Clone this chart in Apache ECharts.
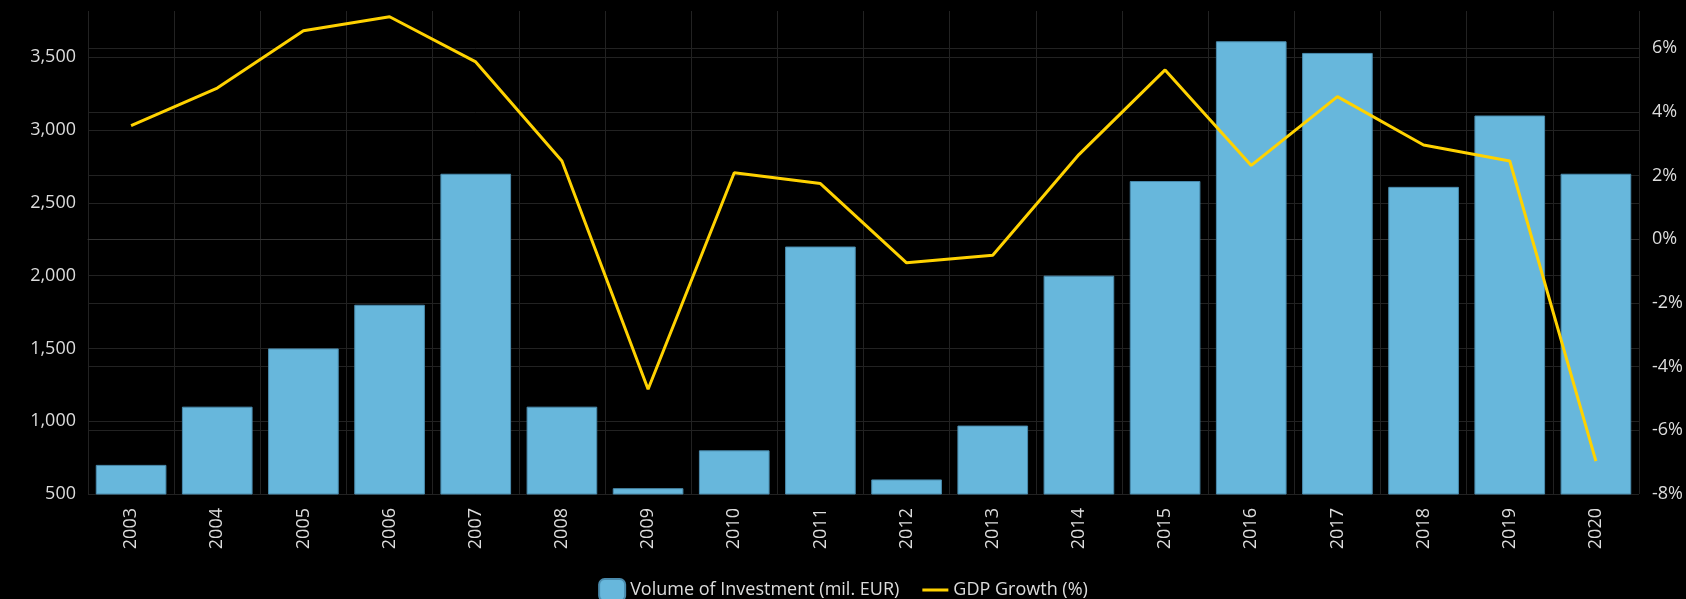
<!DOCTYPE html>
<html>
<head>
<meta charset="utf-8">
<title>Investment and GDP Growth</title>
<script src="https://cdn.jsdelivr.net/npm/echarts@6/dist/echarts.min.js"></script>
<style>
  html, body { margin: 0; padding: 0; background: #000; }
  #main { width: 1686px; height: 599px; }
</style>
</head>
<body>
<div id="main"></div>
<script>
// chart data
var years = ['2003', '2004', '2005', '2006', '2007', '2008', '2009', '2010', '2011',
  '2012', '2013', '2014', '2015', '2016', '2017', '2018', '2019', '2020']
var investment = [700, 1100, 1500, 1800, 2700, 1100, 540, 800, 2200,
  600, 970, 2000, 2650, 3610, 3530, 2610, 3100, 2700]
var gdpGrowth = [3.57, 4.75, 6.55, 6.99, 5.57, 2.46, -4.71, 2.09, 1.75,
  -0.74, -0.5, 2.66, 5.32, 2.32, 4.48, 2.96, 2.46, -6.97]

var textColor = '#dcdcdc'
var gridColor = '#222'
var lineColor = '#ffd200'

var chartDom = document.getElementById('main')
var myChart = echarts.init(chartDom)
var option

option = {
  backgroundColor: '#000',
  animation: false,
  textStyle: { fontFamily: 'Open Sans' },
  grid: {
    left: 88,
    right: 47,
    top: 11,
    bottom: 105
  },
  legend: {
    left: 'center',
    top: 573,
    itemWidth: 26,
    itemHeight: 22,
    itemGap: 23,
    textStyle: { color: textColor, fontSize: 18, fontFamily: 'Open Sans' },
    data: [
      { name: 'Volume of Investment (mil. EUR)', icon: 'roundRect' },
      {
        name: 'GDP Growth (%)',
        // plain short line, no marker
        icon: 'path://M0,0L0.01,0M0,9.5L26,9.5L26,12.5L0,12.5ZM26,22L25.99,22',
        itemStyle: { color: lineColor, borderWidth: 0 }
      }
    ]
  },
  xAxis: {
    type: 'category',
    data: years,
    axisLine: { lineStyle: { color: '#333' } },
    axisTick: { show: false },
    splitLine: { show: true, lineStyle: { color: gridColor } },
    axisLabel: {
      rotate: 90,
      margin: 14,
      color: textColor,
      fontSize: 18
    }
  },
  yAxis: [
    {
      type: 'value',
      min: 500,
      max: 3818,
      interval: 500,
      axisLine: { show: false },
      axisTick: { show: false },
      splitLine: { lineStyle: { color: gridColor }, showMaxLine: false },
      axisLabel: {
        color: textColor,
        fontSize: 18,
        margin: 12,
        showMaxLabel: false,
        formatter: function (v) { return v.toLocaleString('en-US') }
      }
    },
    {
      type: 'value',
      min: -8,
      max: 7.17,
      interval: 2,
      axisLine: { show: false },
      axisTick: { show: false },
      splitLine: { lineStyle: { color: gridColor }, showMaxLine: false },
      axisLabel: {
        color: textColor,
        fontSize: 18,
        margin: 13,
        showMaxLabel: false,
        formatter: function (v) { return v + '%' }
      }
    }
  ],
  series: [
    {
      name: 'Volume of Investment (mil. EUR)',
      type: 'bar',
      barCategoryGap: '18%',
      itemStyle: {
        color: '#67b7dc',
        borderColor: '#4a8bad',
        borderWidth: 1
      },
      data: investment
    },
    {
      name: 'GDP Growth (%)',
      type: 'line',
      yAxisIndex: 1,
      symbol: 'none',
      lineStyle: { color: lineColor, width: 3 },
      itemStyle: { color: lineColor },
      data: gdpGrowth
    }
  ]
}

option && myChart.setOption(option)
</script>
</body>
</html>
